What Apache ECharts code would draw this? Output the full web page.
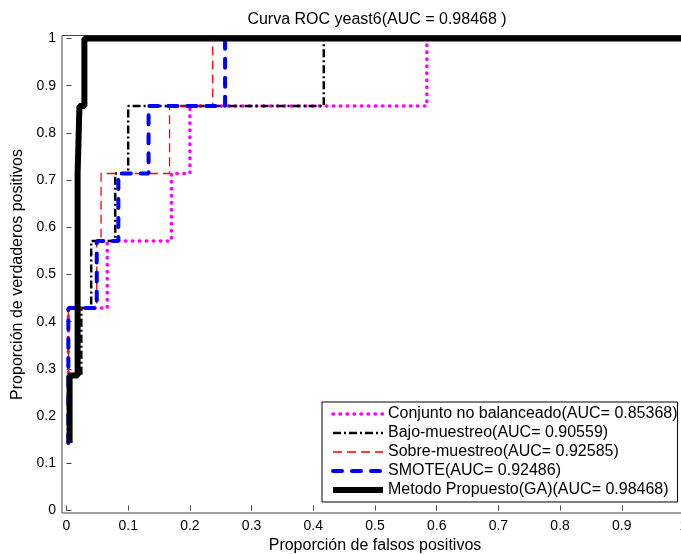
<!DOCTYPE html>
<html>
<head>
<meta charset="utf-8">
<script src="https://cdn.jsdelivr.net/npm/echarts@6/dist/echarts.min.js"></script>
<style>
  html, body { margin: 0; padding: 0; background: #fff; }
  #chart { width: 681px; height: 554px; }
</style>
</head>
<body>
<div id="chart"></div>
<script>
// ROC steps (x = falsos positivos, y = verdaderos positivos)
const xTicks = ['0', '0.1', '0.2', '0.3', '0.4', '0.5', '0.6', '0.7', '0.8', '0.9', '1'];

const conjuntoX = [0.003, 0.003, 0.066, 0.066, 0.170, 0.170, 0.200, 0.200, 0.584, 0.584, 1];
const conjuntoY = [0.143, 0.429, 0.429, 0.571, 0.571, 0.714, 0.714, 0.857, 0.857, 1, 1];

const bajoX = [0.005, 0.005, 0.024, 0.024, 0.040, 0.040, 0.079, 0.079, 0.100, 0.100, 0.417, 0.417, 1];
const bajoY = [0.143, 0.286, 0.286, 0.429, 0.429, 0.571, 0.571, 0.714, 0.714, 0.857, 0.857, 1, 1];

const sobreX = [0.003, 0.003, 0.049, 0.049, 0.056, 0.056, 0.167, 0.167, 0.237, 0.237, 1];
const sobreY = [0.143, 0.429, 0.429, 0.571, 0.571, 0.714, 0.714, 0.857, 0.857, 1, 1];

const smoteX = [0.003, 0.003, 0.049, 0.049, 0.084, 0.084, 0.133, 0.133, 0.257, 0.257, 1];
const smoteY = [0.143, 0.429, 0.429, 0.571, 0.571, 0.714, 0.714, 0.857, 0.857, 1, 1];

const gaX = [0.005, 0.005, 0.018, 0.018, 0.021, 0.021, 0.029, 0.029, 1];
const gaY = [0.143, 0.286, 0.286, 0.714, 0.714, 0.857, 0.857, 1, 1];

const names = [
  'Conjunto no balanceado(AUC= 0.85368)',
  'Bajo-muestreo(AUC= 0.90559)',
  'Sobre-muestreo(AUC= 0.92585)',
  'SMOTE(AUC= 0.92486)',
  'Metodo Propuesto(GA)(AUC= 0.98468)',
];

function pairs(xs, ys) {
  return xs.map((x, i) => [x, ys[i]]);
}

const font = 'Liberation Sans, Arial, Helvetica, sans-serif';

function line(name, xs, ys, color, width, type, cap) {
  return {
    name,
    type: 'line',
    data: pairs(xs, ys),
    symbol: 'none',
    clip: false,
    xAxisIndex: 0,
    yAxisIndex: 0,
    lineStyle: { color, width, type, cap: cap || 'butt' },
    itemStyle: { color },
  };
}

const chart = echarts.init(document.getElementById('chart'));
chart.setOption({
  animation: false,
  title: {
    text: 'Curva ROC yeast6(AUC = 0.98468 )',
    left: 372,
    top: 7,
    textAlign: 'center',
    textStyle: { fontFamily: font, fontSize: 16, fontWeight: 'normal', color: '#000' },
  },
  grid: [
    { left: 66.5, right: -2.5, top: 38.5, bottom: 43.5, containLabel: false, outerBoundsMode: 'none' },
    {
      left: 62, right: -3, top: 35.5, bottom: 41, containLabel: false, outerBoundsMode: 'none',
      show: true, borderColor: '#444', borderWidth: 1, backgroundColor: 'transparent',
    },
  ],
  xAxis: [
    {
      gridIndex: 0,
      type: 'value',
      min: 0,
      max: 1,
      interval: 0.1,
      offset: 2.5,
      name: 'Proporción de falsos positivos',
      nameLocation: 'middle',
      nameGap: 22,
      nameTextStyle: { fontFamily: font, fontSize: 16, color: '#000' },
      axisLine: { show: false },
      axisTick: { show: true, inside: true, length: 5, lineStyle: { color: '#444' } },
      axisLabel: {
        fontFamily: font, fontSize: 14, color: '#000', margin: 6,
        formatter: (v) => xTicks[Math.round(v * 10)],
      },
      splitLine: { show: false },
    },
    { gridIndex: 1, type: 'value', min: 0, max: 1, show: false },
  ],
  yAxis: [
    {
      gridIndex: 0,
      type: 'value',
      min: 0,
      max: 1,
      interval: 0.1,
      offset: 4.5,
      name: 'Proporción de verdaderos positivos',
      nameLocation: 'middle',
      nameGap: 33,
      nameTextStyle: { fontFamily: font, fontSize: 16, color: '#000' },
      axisLine: { show: false },
      axisTick: { show: true, inside: true, length: 5, lineStyle: { color: '#444' } },
      axisLabel: {
        fontFamily: font, fontSize: 14, color: '#000', margin: 6,
        formatter: (v) => xTicks[Math.round(v * 10)],
      },
      splitLine: { show: false },
    },
    { gridIndex: 1, type: 'value', min: 0, max: 1, show: false },
  ],
  legend: {
    data: names,
    orient: 'vertical',
    left: 322,
    top: 402,
    padding: [4, 0, 4, 8],
    itemWidth: 50,
    itemHeight: 14,
    itemGap: 3,
    backgroundColor: '#fff',
    borderColor: '#000',
    borderWidth: 1,
    borderRadius: 0,
    itemStyle: { opacity: 0 },
    lineStyle: { width: 'inherit' },
    textStyle: { fontFamily: font, fontSize: 16, color: '#000', lineHeight: 14 },
  },
  series: [
    line(names[0], conjuntoX, conjuntoY, '#ff00ff', 3.5, [0.5, 6.5], 'round'),
    line(names[1], bajoX, bajoY, '#000000', 2.5, [8, 3, 2, 3]),
    line(names[2], sobreX, sobreY, '#ff0000', 1.3, [9, 5]),
    line(names[3], smoteX, smoteY, '#0000ff', 4, [9, 10], 'round'),
    line(names[4], gaX, gaY, '#000000', 6, 'solid'),
  ],
});
</script>
</body>
</html>
